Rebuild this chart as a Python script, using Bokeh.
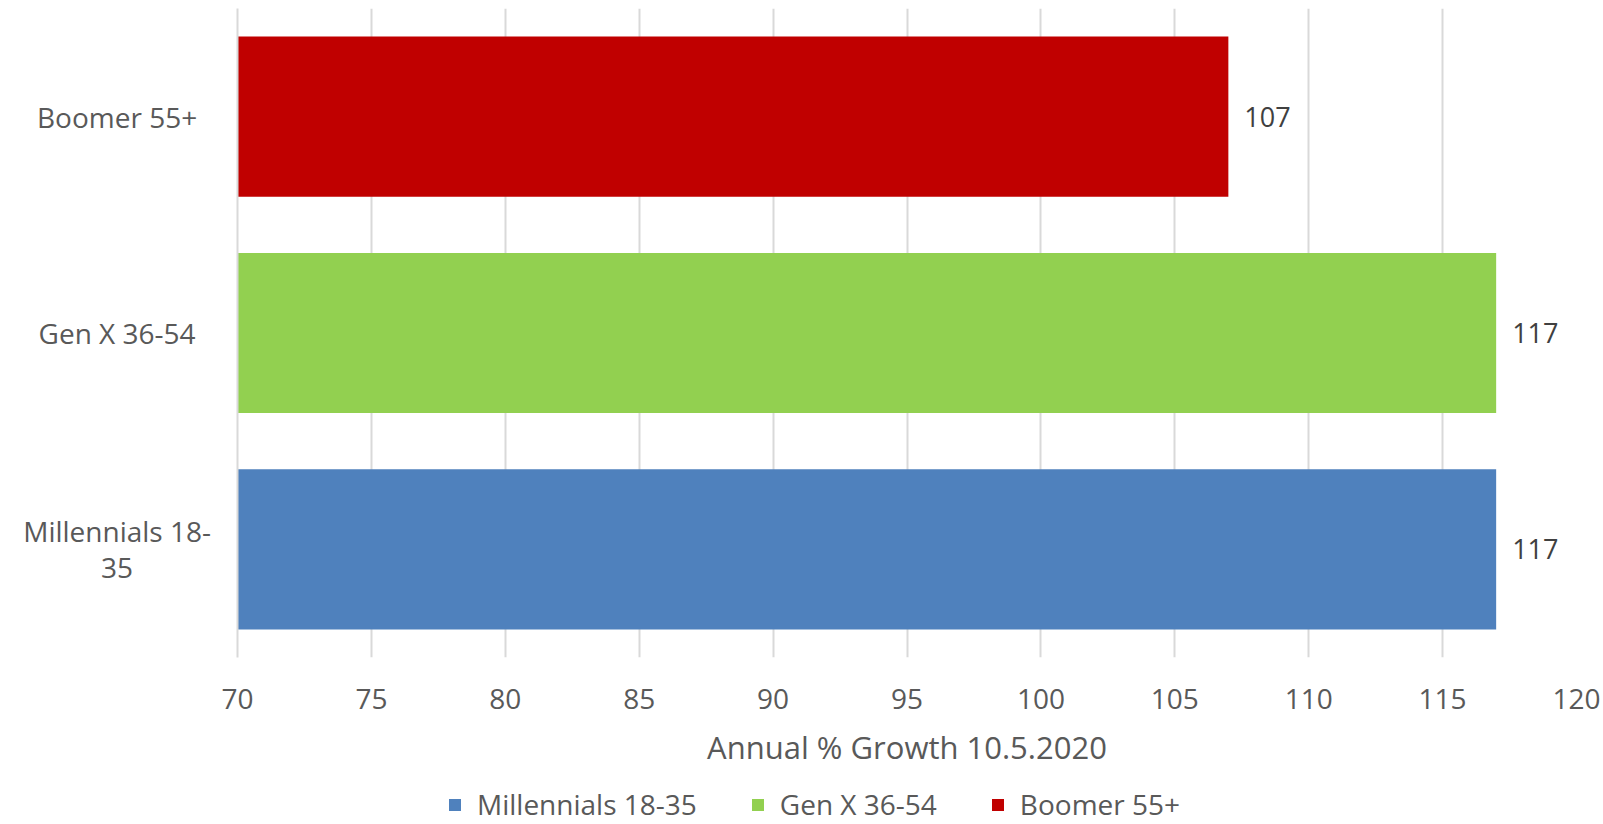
from bokeh.plotting import figure
from bokeh.layouts import row, column
from bokeh.models import (ColumnDataSource, FactorRange, Range1d, FixedTicker,
                          Legend, LegendItem, LabelSet)
from bokeh.core.properties import value
from bokeh.embed import file_html
from bokeh.resources import INLINE

# ---- data ----
categories = ["Millennials 18-35", "Gen X 36-54", "Boomer 55+"]
category_labels = ["Millennials 18-\n35", "Gen X 36-54", "Boomer 55+"]
values = [117, 117, 107]
colors = ["#4F81BD", "#92D050", "#C00000"]
x_ticks = [70, 75, 80, 85, 90, 95, 100, 105, 110, 115, 120]
x_title = "Annual % Growth 10.5.2020"

FONT = "Open Sans"
GREY = "#595959"

W, H = 1603, 824
LABEL_W = 212          # width of the category-label column
MAIN_LEFT = 25         # left border of the main chart (room for the "70" label)
TOP_H = 772            # height of chart row (legend strip below)
FRAME_TOP = 8
FRAME_BOTTOM_BORDER = TOP_H - 657

src = ColumnDataSource(dict(cat=categories, val=values, color=colors,
                            lbl=[str(v) for v in values],
                            catlbl=category_labels,
                            base=[x_ticks[0]] * len(values)))

yr = FactorRange(factors=categories)

# ---- main chart ----
p = figure(width=W - LABEL_W, height=TOP_H, output_backend="svg",
           toolbar_location=None, y_range=yr,
           x_range=Range1d(x_ticks[0], x_ticks[-1]),
           min_border_left=MAIN_LEFT, min_border_right=27,
           min_border_top=FRAME_TOP, min_border_bottom=FRAME_BOTTOM_BORDER)
p.outline_line_color = None

r = p.hbar(y="cat", left="base", right="val", height=0.74, color="color",
           line_color=None, source=src)

labels = LabelSet(x="val", y="cat", text="lbl", source=src, x_offset=16,
                  text_baseline="middle", text_font=value(FONT),
                  text_font_size="27px", text_color="#404040")
p.add_layout(labels)

p.xaxis.ticker = FixedTicker(ticks=x_ticks)
p.xaxis.axis_line_color = None
p.xaxis.major_tick_line_color = None
p.xaxis.minor_tick_line_color = None
p.xaxis.major_tick_out = 0
p.xaxis.major_tick_in = 0
p.xaxis.major_label_standoff = 31
p.xaxis.major_label_text_font = FONT
p.xaxis.major_label_text_font_size = "28px"
p.xaxis.major_label_text_color = GREY
p.xaxis.axis_label = x_title
p.xaxis.axis_label_text_font = FONT
p.xaxis.axis_label_text_font_size = "31px"
p.xaxis.axis_label_text_font_style = "normal"
p.xaxis.axis_label_text_color = GREY
p.xaxis.axis_label_standoff = 14

# vertical axis: only its light line is shown (labels are drawn in the left column)
p.yaxis.ticker = FixedTicker(ticks=[])
p.yaxis.axis_line_color = "#D9D9D9"
p.yaxis.axis_line_width = 2
p.yaxis.major_tick_line_color = None
p.yaxis.minor_tick_line_color = None
p.yaxis.major_tick_out = 0
p.yaxis.major_tick_in = 0
p.yaxis.major_label_standoff = 0

p.ygrid.grid_line_color = None
p.xgrid.grid_line_color = "#D9D9D9"
p.xgrid.grid_line_width = 2

# ---- category labels column (wrapped like the original) ----
lf = figure(width=LABEL_W, height=TOP_H, output_backend="svg",
            toolbar_location=None, y_range=yr, x_range=Range1d(0, 1),
            x_axis_location=None, y_axis_location=None,
            min_border_left=0, min_border_right=0,
            min_border_top=FRAME_TOP, min_border_bottom=FRAME_BOTTOM_BORDER)
lf.outline_line_color = None
lf.grid.visible = False
lf.text(x=0.55, y="cat", text="catlbl", source=src, text_align="center",
        text_baseline="middle", text_font=value(FONT), text_font_size="28px",
        text_color=GREY, text_line_height=0.95)

# ---- legend strip ----
lg = figure(width=W, height=H - TOP_H, output_backend="svg",
            toolbar_location=None, y_range=FactorRange(factors=categories),
            x_range=Range1d(0, 1), x_axis_location=None, y_axis_location=None,
            min_border=0)
lg.outline_line_color = None
lg.grid.visible = False
lr = lg.hbar(y="cat", left="base", right="val", height=0.74, color="color",
             line_color=None, source=src)   # bars lie outside this strip's range

legend = Legend(items=[LegendItem(label=c, renderers=[lr], index=i)
                       for i, c in enumerate(categories)],
                orientation="horizontal", location=(447, 1),
                glyph_width=15, glyph_height=15, label_standoff=15, spacing=53,
                label_text_font=FONT, label_text_font_size="28px",
                label_text_color=GREY, border_line_color=None,
                background_fill_alpha=0, padding=0, margin=0)
lg.add_layout(legend)

layout = column(row(lf, p, spacing=0), lg, spacing=0)
open("out.html", "w").write(file_html(layout, INLINE))
